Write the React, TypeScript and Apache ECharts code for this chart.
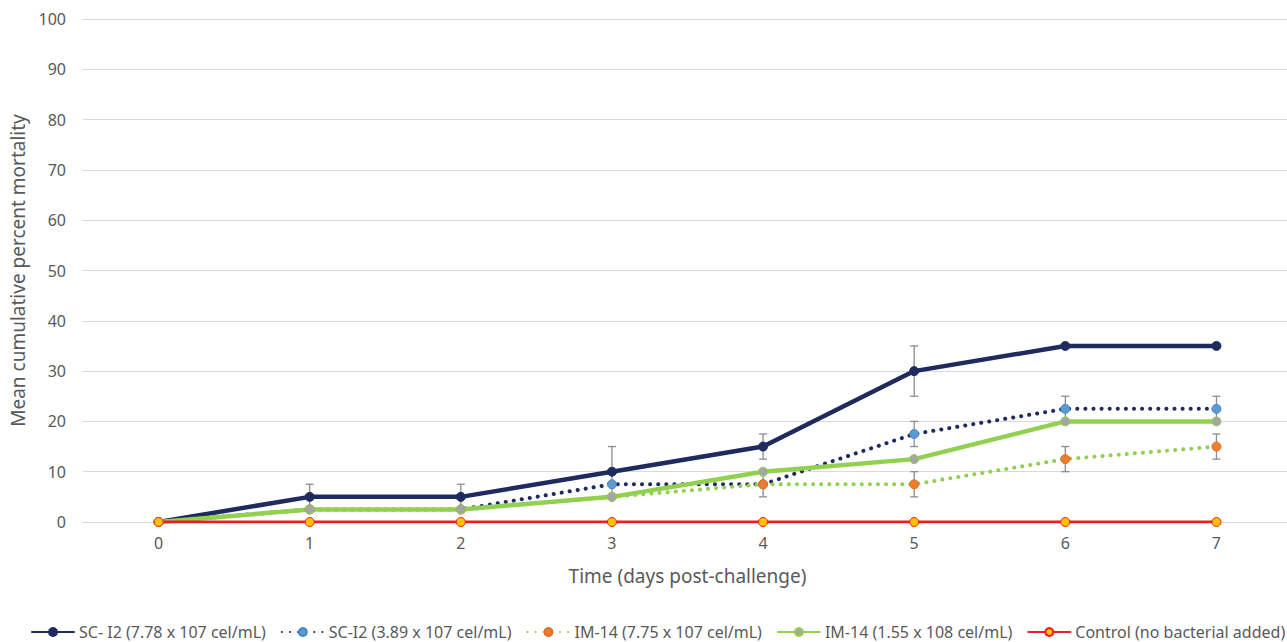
import React, { useEffect, useRef } from "react";
import * as echarts from "echarts";

const days = ["0", "1", "2", "3", "4", "5", "6", "7"];
const yTicks = [0, 10, 20, 30, 40, 50, 60, 70, 80, 90, 100];

const seriesNames = [
  "SC- I2 (7.78 x 107 cel/mL)",
  "SC-I2 (3.89 x 107 cel/mL)",
  "IM-14 (7.75 x 107 cel/mL)",
  "IM-14 (1.55 x 108 cel/mL)",
  "Control (no bacterial added)",
];

const sc778 = [0, 5, 5, 10, 15, 30, 35, 35];
const sc389 = [0, 2.5, 2.5, 7.5, 7.5, 17.5, 22.5, 22.5];
const im775 = [0, 2.5, 2.5, 5, 7.5, 7.5, 12.5, 15];
const im155 = [0, 2.5, 2.5, 5, 10, 12.5, 20, 20];
const control = [0, 0, 0, 0, 0, 0, 0, 0];

const sc778Err = [0, 2.5, 2.5, 5, 2.5, 5, 0, 0];
const sc389Err = [0, 0, 0, 0, 0, 2.5, 2.5, 2.5];
const im775Err = [0, 0, 0, 0, 2.5, 2.5, 2.5, 2.5];
const im155Err = [0, 0, 0, 0, 0, 0, 0, 0];

const FONT = "'Noto Sans', sans-serif";

function errData(vals: number[], errs: number[]) {
  const out: number[][] = [];
  vals.forEach((v, i) => {
    if (errs[i] > 0) out.push([i, v - errs[i], v + errs[i]]);
  });
  return out;
}

export default function App() {
  const ref = useRef<HTMLDivElement>(null);
  useEffect(() => {
    if (!ref.current) return;
    const chart = echarts.init(ref.current, null, { renderer: "svg" });

    const errRender = (params: any, api: any) => {
      const x = api.value(0);
      const lo = api.coord([x, api.value(1)]);
      const hi = api.coord([x, api.value(2)]);
      const w = 4;
      const st = { stroke: "#8c8c8c", lineWidth: 1.3 };
      return {
        type: "group",
        children: [
          { type: "line", shape: { x1: lo[0], y1: lo[1], x2: hi[0], y2: hi[1] }, style: st },
          { type: "line", shape: { x1: lo[0] - w, y1: lo[1], x2: lo[0] + w, y2: lo[1] }, style: st },
          { type: "line", shape: { x1: hi[0] - w, y1: hi[1], x2: hi[0] + w, y2: hi[1] }, style: st },
        ],
      };
    };

    const errSeries = [
      errData(sc778, sc778Err),
      errData(sc389, sc389Err),
      errData(im775, im775Err),
      errData(im155, im155Err),
    ].map((d) => ({
      type: "custom",
      renderItem: errRender,
      data: d,
      z: 1,
      silent: true,
      encode: { x: 0, y: [1, 2] },
    }));

    const mk = (
      name: string,
      data: number[],
      color: string,
      width: number,
      type: any,
      fill: string,
      border: string
    ) => ({
      name,
      type: "line",
      data,
      z: 3,
      symbol: "circle",
      symbolSize: 9,
      showSymbol: true,
      lineStyle: { color, width, type, cap: "round" },
      itemStyle: { color: fill, borderColor: border, borderWidth: 1 },
      emphasis: { disabled: true },
    });

    chart.setOption({
      animation: false,
      backgroundColor: "#ffffff",
      grid: { left: 83, right: 0, top: 19, bottom: 120, containLabel: false },
      legend: {
        data: seriesNames,
        top: 624,
        left: 31,
        padding: 0,
        itemWidth: 42,
        itemHeight: 10,
        itemGap: 15,
        textStyle: { color: "#595959", fontSize: 16, lineHeight: 16, fontFamily: FONT },
      },
      xAxis: {
        type: "category",
        data: days,
        boundaryGap: true,
        axisLine: { lineStyle: { color: "#d9d9d9", width: 1 } },
        axisTick: { show: false },
        axisLabel: { color: "#595959", fontSize: 16, fontFamily: FONT, margin: 13 },
        name: "Time (days post-challenge)",
        nameLocation: "middle",
        nameGap: 44,
        nameTextStyle: { color: "#595959", fontSize: 19, fontFamily: FONT },
      },
      yAxis: {
        type: "value",
        min: yTicks[0],
        max: yTicks[yTicks.length - 1],
        interval: 10,
        axisLine: { show: false },
        axisTick: { show: false },
        splitLine: { lineStyle: { color: "#d9d9d9", width: 1 } },
        axisLabel: { color: "#595959", fontSize: 16, fontFamily: FONT, margin: 17 },
        name: "Mean cumulative percent mortality",
        nameLocation: "middle",
        nameGap: 53,
        nameTextStyle: { color: "#595959", fontSize: 19, fontFamily: FONT },
      },
      series: [
        ...errSeries,
        mk(seriesNames[0], sc778, "#1f2a5e", 4.5, "solid", "#1f2a5e", "#1f2a5e"),
        mk(seriesNames[1], sc389, "#1f2a5e", 4, [0.1, 8], "#5b9bd5", "#4a86c0"),
        mk(seriesNames[2], im775, "#92d050", 4, [0.1, 8], "#ed7d31", "#e07020"),
        mk(seriesNames[3], im155, "#92d050", 4.5, "solid", "#a5a5a5", "#92d050"),
        mk(seriesNames[4], control, "#ee1c25", 3, "solid", "#ffc000", "#ee1c25"),
      ],
    });
    return () => chart.dispose();
  }, []);
  return (
    <div
      style={{
        position: "fixed",
        left: 0,
        top: 0,
        width: 1287,
        height: 642,
        overflow: "hidden",
      }}
    >
      <div ref={ref} style={{ width: 1292, height: 642 }} />
    </div>
  );
}
